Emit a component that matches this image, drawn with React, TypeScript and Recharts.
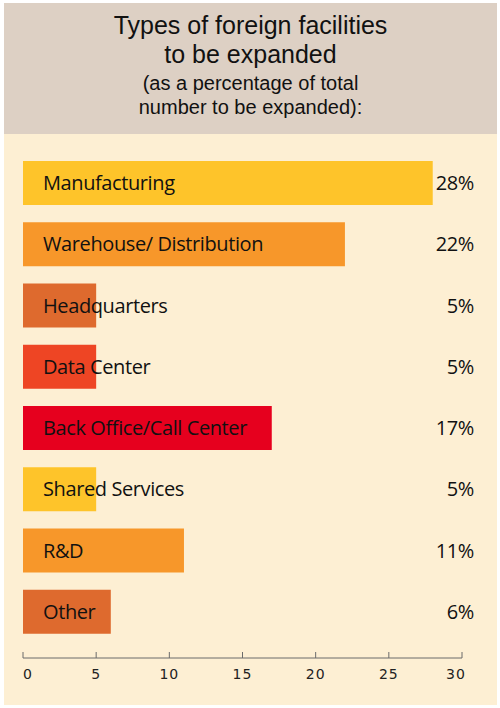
import React from "react";
import { BarChart, Bar, XAxis, YAxis, Cell, LabelList } from "recharts";

const categories = [
  "Manufacturing",
  "Warehouse/ Distribution",
  "Headquarters",
  "Data Center",
  "Back Office/Call Center",
  "Shared Services",
  "R&D",
  "Other",
];
const shares = [28, 22, 5, 5, 17, 5, 11, 6];
const barColors = [
  "#fec42a",
  "#f7972a",
  "#de6a2e",
  "#ee4524",
  "#e6001e",
  "#fec42a",
  "#f7972a",
  "#de6a2e",
];
const xTicks = [0, 5, 10, 15, 20, 25, 30];
const titleLines = ["Types of foreign facilities", "to be expanded"];
const subtitleLines = ["(as a percentage of total", "number to be expanded):"];

const data = categories.map((name, i) => ({ name, value: shares[i] }));

const labelFont = "'Open Sans', 'Noto Sans', sans-serif";
const titleFont = "'Liberation Sans', Arial, sans-serif";

const NameLabel = (props: any) => {
  const { x, y, height, value } = props;
  return (
    <text
      x={x + 20}
      y={y + height / 2 + 7}
      fontFamily={labelFont}
      fontSize={20}
      letterSpacing={-0.4}
      fill="#111"
    >
      {value}
    </text>
  );
};

const ValueLabel = (props: any) => {
  const { y, height, value } = props;
  return (
    <text
      x={474}
      y={y + height / 2 + 7}
      textAnchor="end"
      fontFamily={labelFont}
      fontSize={20}
      letterSpacing={-0.4}
      fill="#111"
    >
      {value}%
    </text>
  );
};

// edge labels sit a little inside the axis ends, like the print version
const AxisTick = (props: any) => {
  const { x, y, payload } = props;
  const shift = payload.value === 0 ? 5 : payload.value === 30 ? -6 : 0;
  return (
    <text
      x={x + shift}
      y={y + 21}
      textAnchor="middle"
      fontFamily="'DejaVu Sans', sans-serif"
      fontSize={14}
      letterSpacing={1}
      fill="#222"
    >
      {payload.value}
    </text>
  );
};

export default function App() {
  return (
    <div
      style={{
        position: "absolute",
        left: 0,
        top: 0,
        width: 500,
        height: 708,
        background: "#ffffff",
      }}
    >
      <div
        style={{
          position: "absolute",
          left: 4,
          top: 3,
          width: 493,
          height: 131,
          background: "#ddd0c4",
          textAlign: "center",
          color: "#111",
          fontFamily: titleFont,
        }}
      >
        {titleLines.map((t, i) => (
          <div
            key={t}
            style={{
              position: "absolute",
              left: 0,
              right: 0,
              top: 8 + i * 29,
              fontSize: 25,
              lineHeight: "29px",
            }}
          >
            {t}
          </div>
        ))}
        {subtitleLines.map((t, i) => (
          <div
            key={t}
            style={{
              position: "absolute",
              left: 0,
              right: 0,
              top: 68 + i * 24,
              fontSize: 20,
              lineHeight: "24px",
            }}
          >
            {t}
          </div>
        ))}
      </div>
      <div
        style={{
          position: "absolute",
          left: 4,
          top: 134,
          width: 493,
          height: 571,
          background: "#fdefd3",
        }}
      />
      <div style={{ position: "absolute", left: 0, top: 0 }}>
        <BarChart
          width={500}
          height={708}
          layout="vertical"
          data={data}
          margin={{ top: 152, right: 38, bottom: 10, left: 23 }}
        >
          <XAxis
            type="number"
            domain={[0, 30]}
            ticks={xTicks}
            height={40}
            axisLine={{ stroke: "#6b6b6b" }}
            tickLine={{ stroke: "#6b6b6b" }}
            tickSize={-6}
            tickMargin={6}
            tick={<AxisTick />}
          />
          <YAxis type="category" dataKey="name" hide padding={{ top: 0, bottom: 16 }} />
          <Bar dataKey="value" barSize={44} isAnimationActive={false}>
            {data.map((d, i) => (
              <Cell key={d.name} fill={barColors[i]} />
            ))}
            <LabelList dataKey="name" content={NameLabel} />
            <LabelList dataKey="value" content={ValueLabel} />
          </Bar>
        </BarChart>
      </div>
    </div>
  );
}
